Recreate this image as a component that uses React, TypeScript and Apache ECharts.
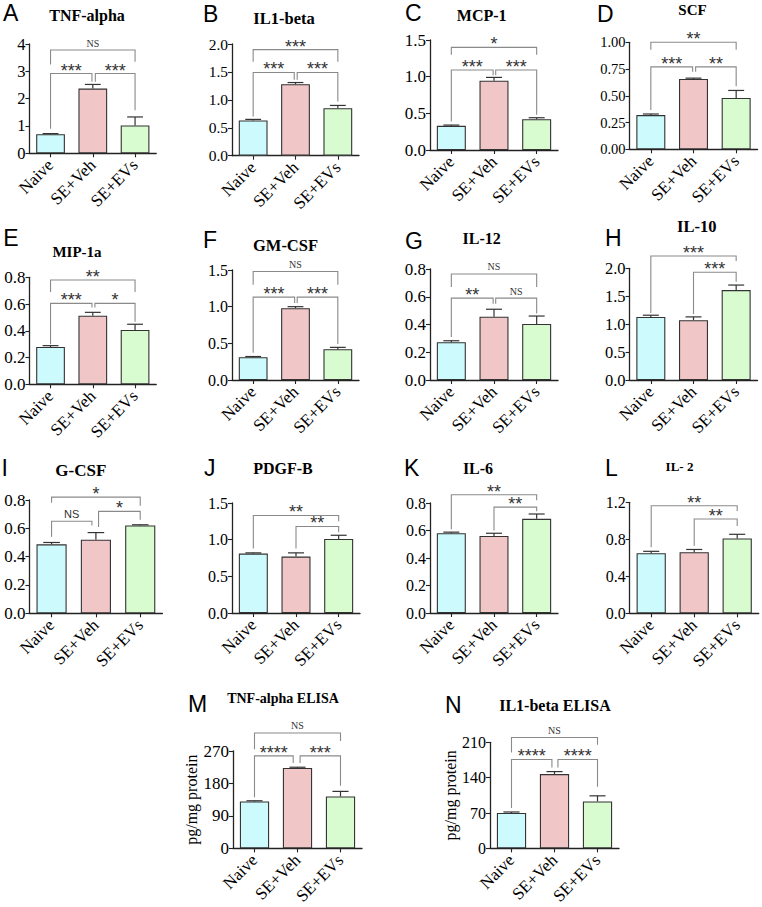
import { useEffect, useRef } from 'react';
import * as echarts from 'echarts';

const categories = ['Naive', 'SE+Veh', 'SE+EVs'];

const panelLetters = ['A', 'B', 'C', 'D', 'E', 'F', 'G', 'H', 'I', 'J', 'K', 'L', 'M', 'N'];
const panelTitles = ['TNF-alpha', 'IL1-beta', 'MCP-1', 'SCF', 'MIP-1a', 'GM-CSF', 'IL-12', 'IL-10', 'G-CSF', 'PDGF-B', 'IL-6', 'IL- 2', 'TNF-alpha ELISA', 'IL1-beta ELISA'];
const yAxisName = 'pg/mg protein';

// Means and SEM per panel
const tnfAlphaMean = [0.70, 2.37, 1.02];
const tnfAlphaSem = [0.02, 0.15, 0.31];
const il1BetaMean = [0.63, 1.28, 0.85];
const il1BetaSem = [0.02, 0.03, 0.05];
const mcp1Mean = [0.33, 0.945, 0.42];
const mcp1Sem = [0.01, 0.045, 0.02];
const scfMean = [0.32, 0.657, 0.48];
const scfSem = [0.01, 0.008, 0.07];
const mip1aMean = [0.279, 0.513, 0.406];
const mip1aSem = [0.01, 0.025, 0.043];
const gmCsfMean = [0.31, 0.98, 0.42];
const gmCsfSem = [0.01, 0.02, 0.025];
const il12Mean = [0.272, 0.456, 0.404];
const il12Sem = [0.011, 0.054, 0.057];
const il10Mean = [1.13, 1.07, 1.61];
const il10Sem = [0.03, 0.06, 0.09];
const gCsfMean = [0.487, 0.52, 0.62];
const gCsfSem = [0.013, 0.05, 0.005];
const pdgfBMean = [0.81, 0.77, 1.01];
const pdgfBSem = [0.01, 0.05, 0.05];
const il6Mean = [0.58, 0.56, 0.685];
const il6Sem = [0.008, 0.02, 0.035];
const il2Mean = [0.65, 0.66, 0.81];
const il2Sem = [0.02, 0.03, 0.044];
const tnfElisaMean = [130, 223, 144];
const tnfElisaSem = [2, 2, 14];
const il1bElisaMean = [70, 147, 93];
const il1bElisaSem = [2, 5, 11];

// y axis: [max, interval, decimals]
const tnfAlphaTicks = [4, 1, 0];
const il1BetaTicks = [2, 0.5, 1];
const mcp1Ticks = [1.5, 0.5, 1];
const scfTicks = [1, 0.25, 2];
const mip1aTicks = [0.8, 0.2, 1];
const gmCsfTicks = [1.5, 0.5, 1];
const il12Ticks = [0.8, 0.2, 1];
const il10Ticks = [2, 0.5, 1];
const gCsfTicks = [0.8, 0.2, 1];
const pdgfBTicks = [1.5, 0.5, 1];
const il6Ticks = [0.8, 0.2, 1];
const il2Ticks = [1.2, 0.4, 1];
const tnfElisaTicks = [270, 90, 0];
const il1bElisaTicks = [210, 70, 0];

// significance brackets: [fromCategory, toCategory, bracketValue, leftLegEnd, rightLegEnd, label]
const tnfAlphaBrackets = [[0, 0.98, 2.92, 0.9, 2.62, '***'], [1.06, 2, 2.92, 2.62, 1.58, '***'], [0, 2, 3.78, 3.25, 3.35, 'NS']];
const il1BetaBrackets = [[0, 0.97, 1.49, 0.70, 1.36, '***'], [1.04, 2, 1.49, 1.36, 0.97, '***'], [0, 2, 1.90, 1.68, 1.68, '***']];
const mcp1Brackets = [[0, 0.98, 1.09, 0.39, 1.02, '***'], [1.04, 2, 1.09, 1.02, 0.48, '***'], [0, 2, 1.40, 1.3, 1.3, '*']];
const scfBrackets = [[0, 0.98, 0.77, 0.367, 0.725, '***'], [1.05, 2, 0.77, 0.725, 0.59, '**'], [0, 2, 1.0, 0.93, 0.93, '**']];
const mip1aBrackets = [[0, 0.98, 0.605, 0.30, 0.575, '***'], [1.05, 2, 0.605, 0.575, 0.468, '*'], [0, 2, 0.78, 0.69, 0.69, '**']];
const gmCsfBrackets = [[0, 0.98, 1.13, 0.37, 1.05, '***'], [1.04, 2, 1.13, 1.05, 0.49, '***'], [0, 2, 1.48, 1.3, 1.3, 'NS']];
const il12Brackets = [[0, 0.98, 0.59, 0.31, 0.55, '**'], [1.04, 2, 0.59, 0.55, 0.48, 'NS'], [0, 2, 0.764, 0.67, 0.67, 'NS']];
const il10Brackets = [[0, 2, 2.22, 1.2, 2.13, '***'], [1, 2, 1.93, 1.18, 1.76, '***']];
const gCsfBrackets = [[0, 0.91, 0.65, 0.54, 0.62, 'NS'], [1.06, 2, 0.72, 0.61, 0.66, '*'], [0, 2, 0.82, 0.78, 0.76, '*']];
const pdgfBBrackets = [[0, 2, 1.33, 0.88, 1.25, '**'], [1, 2, 1.18, 0.88, 1.1, '**']];
const il6Brackets = [[0, 2, 0.86, 0.61, 0.82, '**'], [1, 2, 0.77, 0.6, 0.74, '**']];
const il2Brackets = [[0, 2, 1.163, 0.713, 1.106, '**'], [1, 2, 1.02, 0.73, 0.945, '**']];
const tnfElisaBrackets = [[0, 0.9, 256.5, 142, 237, '****'], [1.06, 2, 256.5, 237, 173.6, '***'], [0, 2, 320, 275, 298, 'NS']];
const il1bElisaBrackets = [[0, 0.94, 176, 80, 160, '****'], [1.08, 2, 176, 160, 122, '****'], [0, 2, 219.6, 190, 205, 'NS']];

const panelMeans = [tnfAlphaMean, il1BetaMean, mcp1Mean, scfMean, mip1aMean, gmCsfMean, il12Mean, il10Mean, gCsfMean, pdgfBMean, il6Mean, il2Mean, tnfElisaMean, il1bElisaMean];
const panelSems = [tnfAlphaSem, il1BetaSem, mcp1Sem, scfSem, mip1aSem, gmCsfSem, il12Sem, il10Sem, gCsfSem, pdgfBSem, il6Sem, il2Sem, tnfElisaSem, il1bElisaSem];
const panelTicks = [tnfAlphaTicks, il1BetaTicks, mcp1Ticks, scfTicks, mip1aTicks, gmCsfTicks, il12Ticks, il10Ticks, gCsfTicks, pdgfBTicks, il6Ticks, il2Ticks, tnfElisaTicks, il1bElisaTicks];
const panelBrackets = [tnfAlphaBrackets, il1BetaBrackets, mcp1Brackets, scfBrackets, mip1aBrackets, gmCsfBrackets, il12Brackets, il10Brackets, gCsfBrackets, pdgfBBrackets, il6Brackets, il2Brackets, tnfElisaBrackets, il1bElisaBrackets];

// ---- layout (pixels) ----
const gridBoxes = [
  [29.4, 44, 126.8, 109.3],
  [232, 44, 127, 111.7],
  [430, 40, 128, 110],
  [629.5, 42.3, 128, 107],
  [29.4, 277.3, 126.8, 107],
  [232, 270, 127, 110],
  [430, 269, 128, 111],
  [629.5, 268.3, 128, 111.7],
  [29.4, 500, 133, 113.3],
  [232, 503, 128, 110],
  [430, 503, 128, 110],
  [629.7, 502.3, 129, 111],
  [233, 751, 129, 100],
  [490, 742.3, 129, 109.4],
];
const titleBoxes = [
  [87, 15, 16], [284, 18, 16.5], [481.7, 15, 16], [692.5, 10, 15],
  [77, 251.7, 15], [285.5, 245, 16.5], [481.7, 238, 16], [696.7, 226, 16.5],
  [80.8, 470.7, 17], [283, 468, 16], [478, 468, 16], [679.5, 466.7, 13],
  [283, 698.3, 14], [555, 705, 16],
];
const letterBoxes = [
  [3, 13.3], [203, 13.5], [405, 12.5], [597, 14],
  [3.3, 237.5], [203, 240], [405, 240.7], [605, 238],
  [1.5, 468], [204, 468], [404, 468], [605, 468],
  [188, 703.5], [445, 705],
];
const tickFontSizes = [16.5, 15.5, 17, 14.5, 17, 16, 17, 16.5, 17, 16, 16, 16, 17, 16];

const barColors = ['#cdfbfd', '#f0c6c6', '#d8fcd0'];
const serif = '"Liberation Serif", "Times New Roman", serif';
const sans = '"Liberation Sans", Arial, sans-serif';

function buildOption() {
  const grid: any[] = [];
  const xAxis: any[] = [];
  const yAxis: any[] = [];
  const series: any[] = [];
  const graphic: any[] = [];

  panelMeans.forEach((means, p) => {
    const [left, top, width, height] = gridBoxes[p];
    const [ymax, interval, dec] = panelTicks[p];
    grid.push({ left, top, width, height, containLabel: false });
    xAxis.push({
      type: 'category',
      gridIndex: p,
      data: categories,
      axisLine: { show: true, lineStyle: { color: '#222', width: 1.3 } },
      axisTick: { show: true, alignWithLabel: true, length: 4, lineStyle: { color: '#222', width: 1.1 } },
      axisLabel: { rotate: 45, interval: 0, margin: 9, fontFamily: serif, fontSize: 17, color: '#000' },
    });
    const isElisa = p >= 12;
    yAxis.push({
      type: 'value',
      gridIndex: p,
      min: 0,
      max: ymax,
      interval,
      name: isElisa ? yAxisName : '',
      nameLocation: 'middle',
      nameGap: 30,
      nameTextStyle: { fontFamily: serif, fontSize: 16, color: '#000' },
      axisLine: { show: true, lineStyle: { color: '#222', width: 1.3 } },
      axisTick: { show: true, length: 4, lineStyle: { color: '#222', width: 1.1 } },
      splitLine: { show: false },
      axisLabel: {
        margin: 4,
        fontFamily: serif,
        fontSize: tickFontSizes[p],
        color: '#000',
        formatter: (v: number) => v.toFixed(dec as number),
      },
    });
    series.push({
      type: 'bar',
      xAxisIndex: p,
      yAxisIndex: p,
      barWidth: '68%',
      data: means.map((v, i) => ({ value: v, itemStyle: { color: barColors[i] } })),
      itemStyle: { borderColor: '#333', borderWidth: 1.1 },
      z: 2,
    });
    const sems = panelSems[p];
    series.push({
      type: 'custom',
      xAxisIndex: p,
      yAxisIndex: p,
      clip: false,
      z: 3,
      encode: { x: 0, y: 1 },
      data: means.map((v, i) => [i, v, sems[i]]),
      renderItem: (params: any, api: any) => {
        const idx = api.value(0);
        const v = api.value(1);
        const e = api.value(2);
        const base = api.coord([idx, v]);
        const tip = api.coord([idx, v + e]);
        const cap = api.size([1, 0])[0] * 0.68 * 0.55;
        const st = { stroke: '#333', lineWidth: 1.2 };
        return {
          type: 'group',
          children: [
            { type: 'line', shape: { x1: base[0], y1: base[1], x2: tip[0], y2: tip[1] }, style: st },
            { type: 'line', shape: { x1: tip[0] - cap / 2, y1: tip[1], x2: tip[0] + cap / 2, y2: tip[1] }, style: st },
          ],
        };
      },
    });
    const brackets = panelBrackets[p];
    series.push({
      type: 'custom',
      xAxisIndex: p,
      yAxisIndex: p,
      clip: false,
      z: 4,
      encode: { x: 0, y: 1 },
      data: brackets.map((b) => [Math.round(b[0] as number), b[2]]),
      renderItem: (params: any, api: any) => {
        const b = brackets[params.dataIndex];
        const bw = api.size([1, 0])[0];
        const pt = (x: number, y: number) => {
          const i = Math.round(x);
          const c = api.coord([i, y]);
          return [c[0] + (x - i) * bw, c[1]];
        };
        const lt = pt(b[0] as number, b[2] as number);
        const ll = pt(b[0] as number, b[3] as number);
        const rt = pt(b[1] as number, b[2] as number);
        const rl = pt(b[1] as number, b[4] as number);
        const label = b[5] as string;
        const isNS = label === 'NS';
        const nsSans = p === 8;
        const mid = (lt[0] + rt[0]) / 2;
        return {
          type: 'group',
          children: [
            {
              type: 'polyline',
              shape: { points: [ll, lt, rt, rl] },
              style: { stroke: '#8a8a8a', lineWidth: 1.1, fill: null },
            },
            {
              type: 'text',
              x: mid,
              y: isNS ? lt[1] - 7 : lt[1] - 3,
              style: {
                text: label,
                fontFamily: isNS ? (nsSans ? sans : serif) : sans,
                fontSize: isNS ? (nsSans ? 11 : 10) : 18,
                fill: '#333',
                align: 'center',
                verticalAlign: 'middle',
              },
            },
          ],
        };
      },
    });

    const [tx, ty, tfs] = titleBoxes[p];
    graphic.push({
      type: 'text',
      x: tx,
      y: ty,
      style: {
        text: panelTitles[p],
        fontFamily: serif,
        fontWeight: 'bold',
        fontSize: tfs,
        fill: '#000',
        align: 'center',
        verticalAlign: 'middle',
      },
    });
    const [lx, ly] = letterBoxes[p];
    graphic.push({
      type: 'text',
      x: lx,
      y: ly,
      style: {
        text: panelLetters[p],
        fontFamily: sans,
        fontSize: 23,
        fill: '#000',
        align: 'left',
        verticalAlign: 'middle',
      },
    });
  });

  return {
    animation: false,
    backgroundColor: '#ffffff',
    grid,
    xAxis,
    yAxis,
    series,
    graphic,
  };
}

export default function App() {
  const ref = useRef<HTMLDivElement>(null);
  useEffect(() => {
    if (!ref.current) return;
    const chart = echarts.init(ref.current, undefined, { renderer: 'svg' });
    chart.setOption(buildOption() as any);
    return () => chart.dispose();
  }, []);
  return (
    <div
      ref={ref}
      style={{ position: 'absolute', left: 0, top: 0, width: 762, height: 907, background: '#fff' }}
    />
  );
}
